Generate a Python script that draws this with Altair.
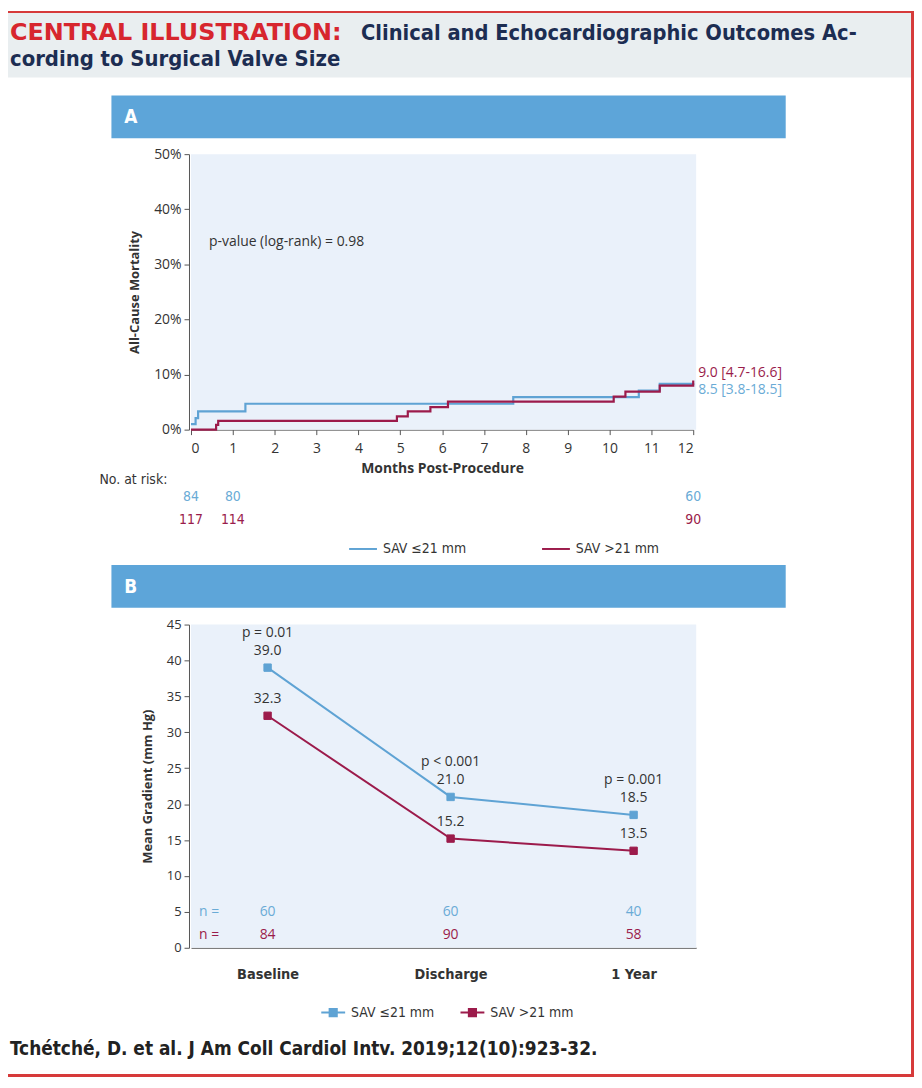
import altair as alt
import pandas as pd

# ---------------- data ----------------
groups = ["SAV ≤21 mm", "SAV >21 mm"]

# Panel A: Kaplan-Meier all-cause mortality (%)
km_small_months = [0, 0.11, 0.17, 1.3, 7.7, 10.7, 11.2, 12.0]
km_small_pct = [1.0, 2.1, 3.3, 4.7, 5.9, 7.1, 8.3, 8.4]
km_large_months = [0, 0.6, 0.65, 4.92, 5.18, 5.72, 6.14, 10.1, 10.38, 11.2, 12.0]
km_large_pct = [0, 0.85, 1.6, 2.4, 3.3, 4.1, 5.1, 6.0, 6.9, 8.0, 8.9]
end_labels = ["8.5 [3.8-18.5]", "9.0 [4.7-16.6]"]
pvalue_label = "p-value (log-rank) = 0.98"

risk_months = [0, 1, 12]
risk_small = [84, 80, 60]
risk_large = [117, 114, 90]

# Panel B: mean gradient
timepoints = ["Baseline", "Discharge", "1 Year"]
grad_small = [39.0, 21.0, 18.5]
grad_large = [32.3, 15.2, 13.5]
n_small = [60, 60, 40]
n_large = [84, 90, 58]
p_labels = ["p = 0.01", "p < 0.001", "p = 0.001"]

title_red = "CENTRAL ILLUSTRATION:"
title_line1 = "Clinical and Echocardiographic Outcomes Ac-"
title_line2 = "cording to Surgical Valve Size"
citation = "Tchétché, D. et al. J Am Coll Cardiol Intv. 2019;12(10):923-32."

# ---------------- style ----------------
W, H = 911, 1072
BLUE = "#5fa3d4"
RED = "#9c1b4b"
BLUE_T = "#6aabd6"
RED_T = "#9a1c4b"
PLOT_BG = "#eaf1fa"
BAR = "#5da5d9"
HEAD_BG = "#e9eef0"
BORDER = "#d63a3a"
TXT = "#333333"
AX = "#555555"
FONT = "Open Sans"
COND = "DejaVu Sans Condensed, Liberation Sans Narrow, Roboto, sans-serif"

one = pd.DataFrame({"k": [0]})


def box(x, x2, y, y2, color):
    return alt.Chart(one).mark_rect(color=color).encode(
        x=alt.value(x), x2=alt.value(x2), y=alt.value(y), y2=alt.value(y2))


def label(text, x, y, **kw):
    return alt.Chart(one).mark_text(text=text, align="left", baseline="middle", **kw).encode(
        x=alt.value(x), y=alt.value(y))


layers = []

# ---------------- decorations ----------------
layers += [
    box(0, 909, 0, 67, HEAD_BG),
    box(0, 911, 0, 2, BORDER),
    box(908, 911, 0, H, BORDER),
    box(0, 911, H - 3, H, BORDER),
    label(title_red, 2, 22, font="DejaVu Sans", fontWeight="bold", fontSize=24, color="#d7262e"),
    label(title_line1, 355, 22, font=COND, fontWeight="bold", fontSize=21.8, color="#1c2d52"),
    label(title_line2, 2, 48, font=COND, fontWeight="bold", fontSize=22, color="#1c2d52"),
    box(104, 782, 85, 128, BAR),
    label("A", 117, 107, font=COND, fontWeight="bold", fontSize=19, color="white"),
    box(104, 782, 557, 600, BAR),
    label("B", 117, 579, font=COND, fontWeight="bold", fontSize=19, color="white"),
    label(citation, 2, 1044, font=COND, fontWeight="bold", fontSize=19, color="#222222"),
]

# ---------------- panel A ----------------
xA_dom, yA_dom = [0, 12], [0, 50]
xA = alt.Scale(domain=xA_dom, range=[184, 689], nice=False)
yA = alt.Scale(domain=yA_dom, range=[421, 144], nice=False)
colA = alt.Scale(domain=groups, range=[BLUE, RED])
colA_t = alt.Scale(domain=groups, range=[BLUE_T, RED_T])

axis_common = dict(grid=False, domainColor=AX, tickColor=AX, labelColor=TXT, labelFont=FONT,
                   titleColor=TXT, titleFont=FONT, titleFontWeight="bold")

axAx = alt.Axis(orient="bottom", offset=421 - H, values=list(range(13)), tickSize=5, labelPadding=7,
                labelFontSize=14, title="Months Post-Procedure", titleFontSize=14, titleY=39,
                titleBaseline="middle", **axis_common)
axAy = alt.Axis(orient="left", offset=-182, values=list(range(0, 51, 10)), tickSize=5, labelPadding=3,
                labelExpr="datum.value + '%'", labelFontSize=14, title="All-Cause Mortality",
                titleFontSize=13, titleX=-55, titleY=282.5, titleAngle=270, titleAlign="center",
                titleBaseline="middle", **axis_common)

bgA = pd.DataFrame({"x0": [xA_dom[0]], "x1": [12.07], "y0": [yA_dom[0]], "y1": [yA_dom[1]]})
layers.append(alt.Chart(bgA).mark_rect(color=PLOT_BG).encode(
    x=alt.X("x0:Q", scale=xA, axis=axAx), x2="x1",
    y=alt.Y("y0:Q", scale=yA, axis=axAy), y2="y1"))

km = pd.concat([
    pd.DataFrame({"month": km_small_months, "pct": km_small_pct, "group": groups[0]}),
    pd.DataFrame({"month": km_large_months, "pct": km_large_pct, "group": groups[1]}),
])
legA = alt.Legend(orient="none", legendX=342, legendY=526, direction="horizontal", title=None,
                  symbolType="stroke", symbolSize=784, symbolStrokeWidth=2, labelFont=COND,
                  labelFontSize=14, labelColor=TXT, columnPadding=72, labelOffset=5, padding=0)
layers.append(alt.Chart(km).mark_line(interpolate="step-after", strokeWidth=2.2).encode(
    x=alt.X("month:Q", scale=xA, axis=None),
    y=alt.Y("pct:Q", scale=yA, axis=None),
    color=alt.Color("group:N", scale=colA, legend=legA)))

# p-value annotation
layers.append(alt.Chart(pd.DataFrame({"x": [0.43], "y": [34.1], "t": [pvalue_label]})).mark_text(
    align="left", baseline="middle", font=FONT, fontSize=14, color=TXT).encode(
    x=alt.X("x:Q", scale=xA, axis=None), y=alt.Y("y:Q", scale=yA, axis=None), text="t:N"))

# end-of-curve labels
finals = [km_small_pct[-1], km_large_pct[-1]]
for g, lab, fin, dy in zip(groups, end_labels, finals, [7, -8]):
    d = pd.DataFrame({"x": [12.07], "y": [fin], "t": [lab], "group": [g]})
    layers.append(alt.Chart(d).mark_text(align="left", baseline="middle", font=FONT, fontSize=14,
                                         dx=2, dy=dy).encode(
        x=alt.X("x:Q", scale=xA, axis=None), y=alt.Y("y:Q", scale=yA, axis=None), text="t:N",
        color=alt.Color("group:N", scale=colA_t, legend=None)))

# numbers at risk
layers.append(label("No. at risk:", 92, 472, font=COND, fontSize=14, color=TXT))
for g, vals, ypix in zip(groups, [risk_small, risk_large], [489, 512]):
    d = pd.DataFrame({"month": risk_months, "n": vals, "group": g})
    layers.append(alt.Chart(d).mark_text(baseline="middle", font=COND, fontSize=14).encode(
        x=alt.X("month:Q", scale=xA, axis=None), y=alt.value(ypix), text="n:Q",
        color=alt.Color("group:N", scale=colA_t, legend=None)))

# ---------------- panel B ----------------
xB_dom, yB_dom = [-0.4186, 2.342], [0, 45]
xB = alt.Scale(domain=xB_dom, range=[184, 692], nice=False)
yB = alt.Scale(domain=yB_dom, range=[942, 617], nice=False)

label_expr = "[" + ",".join("'%s'" % t for t in timepoints) + "][datum.value]"
axBx = alt.Axis(orient="bottom", offset=942 - H, values=[0, 1, 2], tickSize=0, labelPadding=20,
                labelExpr=label_expr, labelFont=COND, labelFontWeight="bold", labelFontSize=14.5,
                labelColor=TXT, title=None, grid=False, domainColor=AX)
axBy = alt.Axis(orient="left", offset=-182, values=list(range(0, 46, 5)), tickSize=5, labelPadding=3,
                labelFontSize=13, title="Mean Gradient (mm Hg)", titleFontSize=13, titleX=-42,
                titleY=779.5, titleAngle=270, titleAlign="center", titleBaseline="middle",
                **axis_common)

bgB = pd.DataFrame({"x0": [xB_dom[0]], "x1": [xB_dom[1]], "y0": [yB_dom[0]], "y1": [yB_dom[1]]})
layers.append(alt.Chart(bgB).mark_rect(color=PLOT_BG).encode(
    x=alt.X("x0:Q", scale=xB, axis=axBx), x2="x1",
    y=alt.Y("y0:Q", scale=yB, axis=axBy), y2="y1"))

grad = pd.concat([
    pd.DataFrame({"idx": [0, 1, 2], "time": timepoints, "value": grad_small, "group": groups[0],
                  "n": n_small, "p": p_labels}),
    pd.DataFrame({"idx": [0, 1, 2], "time": timepoints, "value": grad_large, "group": groups[1],
                  "n": n_large, "p": ["", "", ""]}),
])
layers.append(alt.Chart(grad).mark_line(strokeWidth=2).encode(
    x=alt.X("idx:Q", scale=xB, axis=None), y=alt.Y("value:Q", scale=yB, axis=None),
    color=alt.Color("group:N", scale=colA, legend=None)))

legB = alt.Legend(orient="none", legendX=314, legendY=994, direction="horizontal", title=None,
                  symbolType="M-1,0L1,0M-0.3,-0.3L0.3,-0.3L0.3,0.3L-0.3,0.3Z", symbolSize=576,
                  symbolStrokeWidth=2, labelFont=COND, labelFontSize=14, labelColor=TXT,
                  columnPadding=22, labelOffset=5, padding=0)
layers.append(alt.Chart(grad).mark_point(shape="square", filled=True, size=55, opacity=1,
                                         strokeWidth=1).encode(
    x=alt.X("idx:Q", scale=xB, axis=None), y=alt.Y("value:Q", scale=yB, axis=None),
    fill=alt.Fill("group:N", scale=colA, legend=legB),
    stroke=alt.Stroke("group:N", scale=colA, legend=legB)))

# value labels
layers.append(alt.Chart(grad).mark_text(baseline="middle", font=FONT, fontSize=14, color=TXT,
                                        dy=-17).encode(
    x=alt.X("idx:Q", scale=xB, axis=None), y=alt.Y("value:Q", scale=yB, axis=None),
    text=alt.Text("value:Q", format=".1f")))
# p labels (above the upper series)
layers.append(alt.Chart(grad[grad["group"] == groups[0]]).mark_text(
    baseline="middle", font=FONT, fontSize=14, color=TXT, dy=-35).encode(
    x=alt.X("idx:Q", scale=xB, axis=None), y=alt.Y("value:Q", scale=yB, axis=None), text="p:N"))

# n rows
for g, ypix in zip(groups, [906, 929]):
    d = grad[grad["group"] == g]
    layers.append(alt.Chart(d).mark_text(baseline="middle", font=FONT, fontSize=14).encode(
        x=alt.X("idx:Q", scale=xB, axis=None), y=alt.value(ypix), text="n:Q",
        color=alt.Color("group:N", scale=colA_t, legend=None)))
    layers.append(alt.Chart(d.head(1)).mark_text(baseline="middle", font=FONT, fontSize=14,
                                                 text="n =").encode(
        x=alt.X("x:Q", scale=xB, axis=None), y=alt.value(ypix),
        color=alt.Color("group:N", scale=colA_t, legend=None)).transform_calculate(x="-0.32"))

chart = alt.layer(*layers).resolve_scale(
    x="independent", y="independent", color="independent", fill="independent", stroke="independent"
).resolve_axis(x="independent", y="independent").resolve_legend(
    color="independent", fill="independent", stroke="independent"
).properties(
    width=W, height=H, padding=0, background="white",
    autosize=alt.AutoSizeParams(type="none"),
).configure_view(strokeWidth=0)

chart.save("out.html", embed_options={"renderer": "svg", "actions": False})
